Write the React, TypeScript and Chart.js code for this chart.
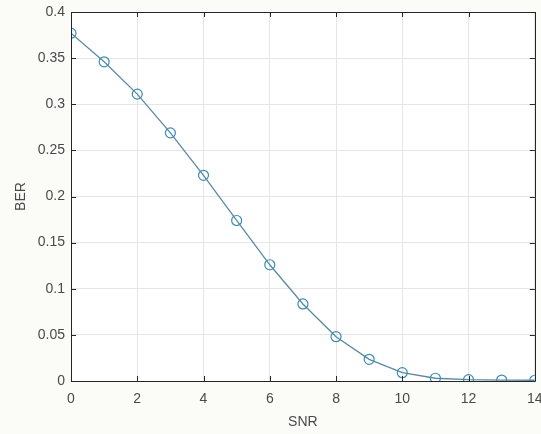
import React, { useEffect, useRef } from "react";
import { Chart, registerables } from "chart.js";

Chart.register(...registerables);

const snr = [0, 1, 2, 3, 4, 5, 6, 7, 8, 9, 10, 11, 12, 13, 14];
const ber = [0.377, 0.346, 0.311, 0.269, 0.223, 0.174, 0.126, 0.0835, 0.048, 0.0235, 0.009, 0.003, 0.0015, 0.001, 0.0008];
const xTicks = [0, 2, 4, 6, 8, 10, 12, 14];
const yTicks = [0, 0.05, 0.1, 0.15, 0.2, 0.25, 0.3, 0.35, 0.4];
const xLabel = "SNR";
const yLabel = "BER";

const boxPlugin = {
  id: "matlabBox",
  afterDraw(chart: any) {
    const { ctx, chartArea } = chart;
    const { left, right, top, bottom } = chartArea;
    const xs = chart.scales.x;
    const ys = chart.scales.y;
    ctx.save();
    ctx.strokeStyle = "#262626";
    ctx.lineWidth = 1;
    ctx.beginPath();
    ctx.rect(Math.round(left) + 0.5, Math.round(top) + 0.5, Math.round(right - left), Math.round(bottom - top));
    ctx.stroke();
    ctx.beginPath();
    xTicks.forEach((v) => {
      const px = Math.round(xs.getPixelForValue(v)) + 0.5;
      ctx.moveTo(px, bottom);
      ctx.lineTo(px, bottom - 5);
      ctx.moveTo(px, top);
      ctx.lineTo(px, top + 5);
    });
    yTicks.forEach((v) => {
      const py = Math.round(ys.getPixelForValue(v)) + 0.5;
      ctx.moveTo(left, py);
      ctx.lineTo(left + 5, py);
      ctx.moveTo(right, py);
      ctx.lineTo(right - 5, py);
    });
    ctx.stroke();
    ctx.restore();
  },
  beforeDraw(chart: any) {
    const { ctx, chartArea, width, height } = chart;
    ctx.save();
    ctx.fillStyle = "#fbfbf7";
    ctx.fillRect(0, 0, width, height);
    ctx.fillStyle = "#ffffff";
    ctx.fillRect(chartArea.left, chartArea.top, chartArea.right - chartArea.left, chartArea.bottom - chartArea.top);
    ctx.restore();
  },
};

export default function App() {
  const ref = useRef<HTMLCanvasElement | null>(null);
  useEffect(() => {
    if (!ref.current) return;
    const font = { family: "Liberation Sans, Arial, sans-serif", size: 14 };
    const chart = new Chart(ref.current, {
      type: "line",
      data: {
        datasets: [
          {
            data: snr.map((x, i) => ({ x, y: ber[i] })),
            borderColor: "#5a8aa0",
            borderWidth: 1.3,
            pointStyle: "circle",
            pointRadius: 5,
            pointBorderColor: "#3b8db5",
            pointBackgroundColor: "rgba(0,0,0,0)",
            pointBorderWidth: 1.2,
            tension: 0,
            fill: false,
          },
        ],
      },
      options: {
        responsive: false,
        animation: false,
        devicePixelRatio: 1,
        layout: { padding: { left: 0, top: 12, right: 6, bottom: 0 } },
        plugins: { legend: { display: false }, tooltip: { enabled: false } },
        scales: {
          x: {
            type: "linear",
            min: 0,
            max: 14,
            afterBuildTicks: (s: any) => {
              s.ticks = xTicks.map((v) => ({ value: v }));
            },
            afterFit: (s: any) => {
              s.height = 53;
              s.paddingLeft = 0;
              s.paddingRight = 0;
            },
            ticks: { color: "#4a4a4a", font, padding: 10, maxRotation: 0 },
            grid: { color: "#e6e6e6", drawTicks: false, tickLength: 0 },
            border: { display: false },
            title: { display: true, text: xLabel, color: "#4a4a4a", font, padding: { top: 0, bottom: 3 } },
          },
          y: {
            type: "linear",
            min: 0,
            max: 0.4,
            afterBuildTicks: (s: any) => {
              s.ticks = yTicks.map((v) => ({ value: v }));
            },
            afterFit: (s: any) => {
              s.width = 71;
              s.paddingTop = 0;
              s.paddingBottom = 0;
            },
            ticks: {
              color: "#4a4a4a",
              font,
              padding: 6,
              callback: (v: any) => String(Number(Number(v).toFixed(2))),
            },
            grid: { color: "#e6e6e6", drawTicks: false, tickLength: 0 },
            border: { display: false },
            title: { display: true, text: yLabel, color: "#4a4a4a", font, padding: { top: 13, bottom: 0 } },
          },
        },
      },
      plugins: [boxPlugin],
    } as any);
    return () => chart.destroy();
  }, []);
  return (
    <div style={{ position: "fixed", left: 0, top: 0, width: 541, height: 434, background: "#fbfbf7" }}>
      <canvas ref={ref} width={541} height={434} style={{ display: "block", width: 541, height: 434 }} />
    </div>
  );
}
